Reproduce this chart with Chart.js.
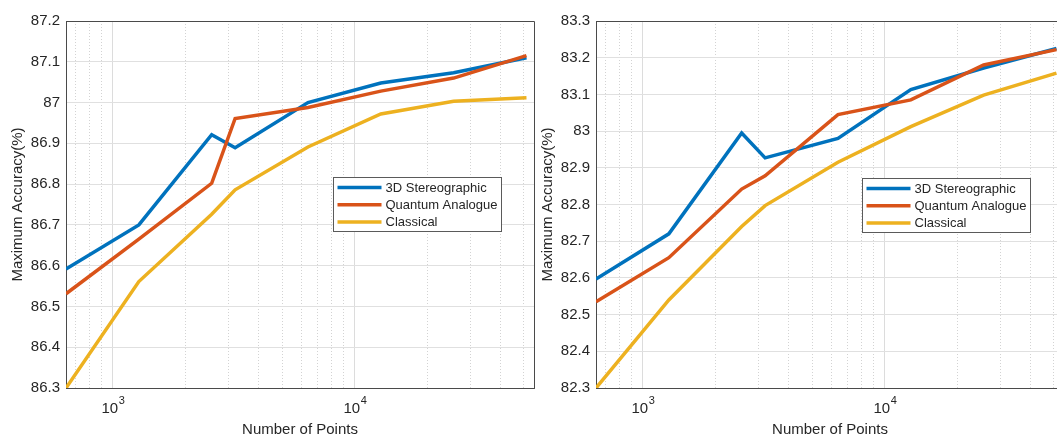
<!DOCTYPE html>
<html><head><meta charset="utf-8">
<script src="https://cdn.jsdelivr.net/npm/chart.js@4/dist/chart.umd.min.js"></script>
<style>
html,body{margin:0;padding:0;background:#fff;overflow:hidden;width:1057px;height:438px;position:relative;}
.c{position:absolute;top:0;height:438px;}
#w1{left:0;width:545px;}
#w2{left:530px;width:545px;}
</style></head><body>
<div class="c" id="w1"><canvas id="c1"></canvas></div>
<div class="c" id="w2"><canvas id="c2"></canvas></div>
<script>
// ---- data ----
const numPoints = [640, 1280, 2560, 3200, 6400, 12800, 25600, 51200];
const seriesNames = ['3D Stereographic', 'Quantum Analogue', 'Classical'];
const seriesColors = ['#0072BD', '#D95319', '#EDB120'];

const leftStereo    = [86.592, 86.700, 86.921, 86.889, 87.000, 87.048, 87.073, 87.110];
const leftQuantum   = [86.531, 86.665, 86.802, 86.961, 86.988, 87.028, 87.060, 87.115];
const leftClassical = [86.300, 86.561, 86.726, 86.786, 86.891, 86.972, 87.003, 87.012];

const rightStereo    = [82.597, 82.720, 82.995, 82.927, 82.980, 83.113, 83.172, 83.225];
const rightQuantum   = [82.535, 82.655, 82.842, 82.878, 83.045, 83.085, 83.180, 83.222];
const rightClassical = [82.300, 82.540, 82.740, 82.797, 82.915, 83.012, 83.098, 83.158];

const xTickValues = [700, 800, 900, 1000, 2000, 3000, 4000, 5000, 6000, 7000, 8000, 9000,
                     10000, 20000, 30000, 40000, 50000];
const xMajorTicks = [1000, 10000];
const xRange = [640, 55000];
const leftYRange = [86.3, 87.2];
const rightYRange = [82.3, 83.3];
const xTitle = 'Number of Points';
const yTitle = 'Maximum Accuracy(%)';

// ---- style ----
const FONT = '"Liberation Sans", Arial, Helvetica, sans-serif';
const TEXT = '#262626';
const AXIS = '#4a4a4a';
const isMajor = v => xMajorTicks.includes(v);

function decorPlugin(legendOffset) {
  return {
    id: 'decor',
    afterDraw(chart) {
      const ctx = chart.ctx, a = chart.chartArea, xs = chart.scales.x;
      ctx.save();
      // box top/right
      ctx.strokeStyle = AXIS; ctx.lineWidth = 1;
      ctx.beginPath();
      ctx.moveTo(Math.round(a.left) + 0.5, Math.round(a.top) + 0.5);
      ctx.lineTo(Math.round(a.right) + 0.5, Math.round(a.top) + 0.5);
      ctx.lineTo(Math.round(a.right) + 0.5, Math.round(a.bottom) + 0.5);
      ctx.stroke();
      // x tick labels 10^n
      ctx.fillStyle = TEXT;
      ctx.textBaseline = 'middle';
      xMajorTicks.forEach(v => {
        const px = xs.getPixelForValue(v);
        const base = '10', exp = String(Math.round(Math.log10(v)));
        ctx.font = '15px ' + FONT;
        const wb = ctx.measureText(base).width;
        ctx.font = '11px ' + FONT;
        const we = ctx.measureText(exp).width;
        const x0 = px - (wb + we) / 2;
        ctx.font = '15px ' + FONT;
        ctx.textAlign = 'left';
        ctx.fillText(base, x0, a.bottom + 21);
        ctx.font = '11px ' + FONT;
        ctx.fillText(exp, x0 + wb + 0.5, a.bottom + 13);
      });
      // axis titles
      ctx.font = '15px ' + FONT;
      ctx.textAlign = 'center';
      ctx.fillText(xTitle, (a.left + a.right) / 2, a.bottom + 42);
      ctx.save();
      ctx.translate(a.left - 48, (a.top + a.bottom) / 2);
      ctx.rotate(-Math.PI / 2);
      ctx.fillText(yTitle, 0, 0);
      ctx.restore();
      // legend
      ctx.font = '13px ' + FONT;
      const dsets = chart.data.datasets;
      let tw = 0;
      dsets.forEach(d => { tw = Math.max(tw, ctx.measureText(d.label).width); });
      const bx = Math.round(a.left + legendOffset[0]) + 0.5;
      const by = Math.round(a.top + legendOffset[1]) + 0.5;
      const bw = Math.round(4 + 44 + 4 + tw + 4);
      const bh = 54;
      ctx.fillStyle = '#fff';
      ctx.fillRect(bx, by, bw, bh);
      ctx.strokeStyle = '#5a5a5a'; ctx.lineWidth = 1;
      ctx.strokeRect(bx, by, bw, bh);
      ctx.textAlign = 'left';
      ctx.textBaseline = 'middle';
      dsets.forEach((d, i) => {
        const yy = by + 10 + i * 17.2;
        ctx.strokeStyle = d.borderColor; ctx.lineWidth = 3.5; ctx.lineCap = 'butt';
        ctx.beginPath(); ctx.moveTo(bx + 4, yy); ctx.lineTo(bx + 48, yy); ctx.stroke();
        ctx.fillStyle = TEXT;
        ctx.fillText(d.label, bx + 52, yy + 0.5);
      });
      ctx.restore();
    }
  };
}

function makeChart(id, series, yRange, legendOffset) {
  const datasets = series.map((vals, i) => ({
    label: seriesNames[i],
    data: numPoints.map((x, j) => ({ x: x, y: vals[j] })),
    borderColor: seriesColors[i],
    backgroundColor: seriesColors[i],
    borderWidth: 3.5,
    pointRadius: 0,
    tension: 0,
    fill: false,
    order: 3 - i
  }));
  return new Chart(document.getElementById(id), {
    type: 'line',
    data: { datasets },
    options: {
      responsive: true,
      maintainAspectRatio: false,
      animation: false,
      layout: { padding: { left: 0, top: 21, right: 11, bottom: 0 } },
      plugins: { legend: { display: false }, tooltip: { enabled: false } },
      scales: {
        x: {
          type: 'logarithmic',
          min: xRange[0], max: xRange[1],
          afterBuildTicks: s => { s.ticks = xTickValues.map(v => ({ value: v, major: isMajor(v) })); },
          afterFit: s => { s.height = 50; },
          ticks: { display: false },
          grid: {
            drawTicks: false,
            color: c => (c.tick && isMajor(c.tick.value)) ? '#dcdcdc' : '#c8c8c8',
            lineWidth: c => (c.tick && isMajor(c.tick.value)) ? 1 : 0.8
          },
          border: {
            display: true, color: AXIS, width: 1,
            dash: c => (c.tick && isMajor(c.tick.value)) ? [] : [1, 2]
          }
        },
        y: {
          type: 'linear',
          min: yRange[0], max: yRange[1],
          afterFit: s => { s.width = 66; },
          ticks: {
            stepSize: 0.1,
            padding: 6,
            color: TEXT,
            font: { family: FONT, size: 15 },
            callback: v => String(Number(Number(v).toFixed(1)))
          },
          grid: { drawTicks: false, color: '#e0e0e0', lineWidth: 1 },
          border: { display: true, color: AXIS, width: 1 }
        }
      }
    },
    plugins: [decorPlugin(legendOffset)]
  });
}

makeChart('c1', [leftStereo, leftQuantum, leftClassical], leftYRange, [267, 156]);
makeChart('c2', [rightStereo, rightQuantum, rightClassical], rightYRange, [266, 157]);
</script>
</body></html>
